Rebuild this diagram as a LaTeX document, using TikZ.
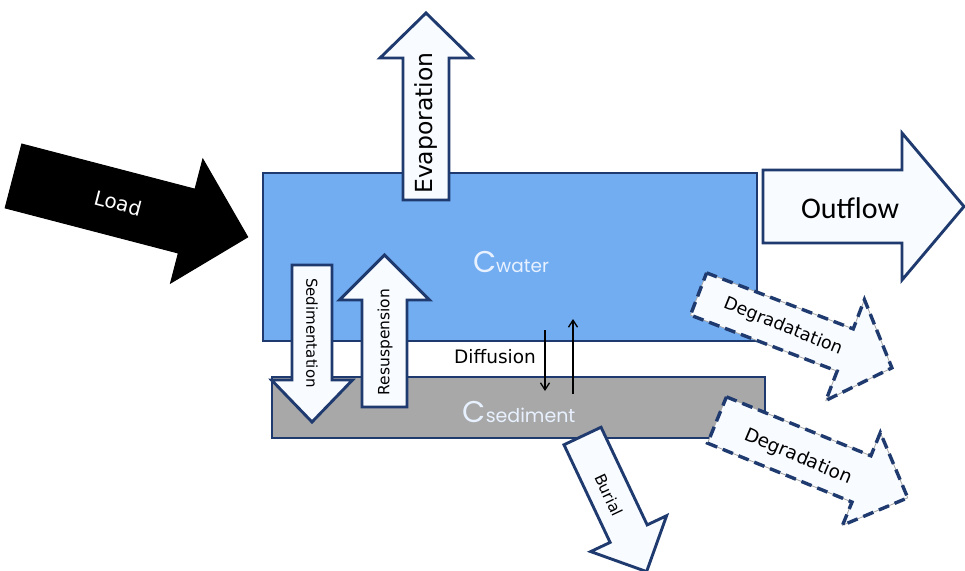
\documentclass[tikz,border=0pt]{standalone}
\usepackage{fontspec}
\setmainfont{DejaVu Sans}
\newfontfamily\calib{Carlito}
\newfontfamily\geom{Poppins}
\usetikzlibrary{arrows.meta}
\definecolor{navy}{HTML}{1F3A6E}
\definecolor{waterblue}{HTML}{72ADF2}
\definecolor{sedgray}{HTML}{A8A8A8}
\definecolor{arrowfill}{HTML}{F8FBFF}
\definecolor{lbl}{HTML}{E8F1FF}
\newcommand{\fatarrow}[8]{%
  \begin{scope}[shift={(#2,#3)}, rotate=#4]
    \draw[#1] (0,-#6) -- ({#5-#8},-#6) -- ({#5-#8},-#7) -- (#5,0) -- ({#5-#8},#7) -- ({#5-#8},#6) -- (0,#6) -- cycle;
  \end{scope}}
\newcommand{\dashedarrow}[7]{%
  \fatarrow{draw=gray!70, fill=arrowfill, line width=0.8pt, line join=miter}{#1}{#2}{#3}{#4}{#5}{#6}{#7}%
  \fatarrow{draw=navy, line width=3.4pt, dash pattern=on 11pt off 6pt, line join=miter}{#1}{#2}{#3}{#4}{#5}{#6}{#7}}
\tikzset{
  box/.style={draw=navy, line width=2.3pt},
  flowarrow/.style={draw=navy, fill=arrowfill, line width=2.9pt, line join=miter},
  loadarrow/.style={draw=black, fill=black, line width=1pt},
  lab/.style={inner sep=0pt, font=\fontsize{18}{18}\selectfont},
  clab/.style={inner sep=0pt, text=lbl},
  diff/.style={draw=black, line width=1.3pt, -{Straight Barb[length=7pt,width=9pt,line width=1.3pt]}}
}
\begin{document}
\begin{tikzpicture}[x=1pt, y=-1pt]
\useasboundingbox (0,0) rectangle (965,570);
% boxes
\draw[box, fill=waterblue] (263,173) rectangle (757,341);
\draw[box, fill=sedgray] (272,377) rectangle (765,438);
% arrows
\fatarrow{loadarrow}{13.5}{176}{-14.6}{242}{33}{64}{63}
\fatarrow{flowarrow}{426}{200}{90}{187}{23}{46}{45}
\fatarrow{flowarrow}{763}{206.5}{0}{201}{36.5}{73.5}{62}
\fatarrow{flowarrow}{312}{265}{-90}{157}{20}{40.5}{42}
\fatarrow{flowarrow}{384.5}{407}{90}{152}{22.5}{45}{45}
\dashedarrow{698.5}{294}{-20.9}{207}{22.6}{54}{50}
\dashedarrow{717}{420}{-22.2}{206}{25}{50}{50}
\fatarrow{flowarrow}{582.5}{436}{-64.7}{150}{20.5}{42}{42}
% labels
\node[lab, text=white, font=\fontsize{20}{20}\selectfont, rotate=-14.6] (load) at (118,203) {Load};
\node[lab, font=\fontsize{23.5}{23.5}\selectfont, rotate=90] (evap) at (426,123) {Evaporation};
\node[inner sep=0pt, font=\calib\fontsize{30}{30}\selectfont] (out) at (850,208) {Outflow};
\node[lab, font=\fontsize{15}{15}\selectfont, rotate=-90] (sed) at (312,333) {Sedimentation};
\node[lab, font=\fontsize{15.5}{15.5}\selectfont, rotate=90] (res) at (385,342) {Resuspension};
\node[lab, font=\fontsize{17.5}{17.5}\selectfont, rotate=-22] (deg1) at (783,327) {Degradatation};
\node[lab, font=\fontsize{18.5}{18.5}\selectfont, rotate=-23] (deg2) at (798,457) {Degradation};
\node[lab, font=\fontsize{15.5}{15.5}\selectfont, rotate=-64.7] (bur) at (609,495) {Burial};
\node[lab, font=\fontsize{18.5}{18.5}\selectfont] (dif) at (495,357) {Diffusion};
\node[clab] (cw) at (511,262) {{\geom\fontsize{30}{30}\selectfont C}{\geom\fontsize{18.5}{18.5}\selectfont water}};
\node[clab] (cs) at (519,412) {{\geom\fontsize{30}{30}\selectfont C}{\geom\fontsize{19}{19}\selectfont sediment}};
% diffusion arrows
\coordinate (d1a) at (545,330);
\coordinate (d1b) at (545,391);
\coordinate (d2a) at (573,394);
\coordinate (d2b) at (573,319);
\draw[diff] (d1a) -- (d1b);
\draw[diff] (d2a) -- (d2b);
\end{tikzpicture}
\end{document}
